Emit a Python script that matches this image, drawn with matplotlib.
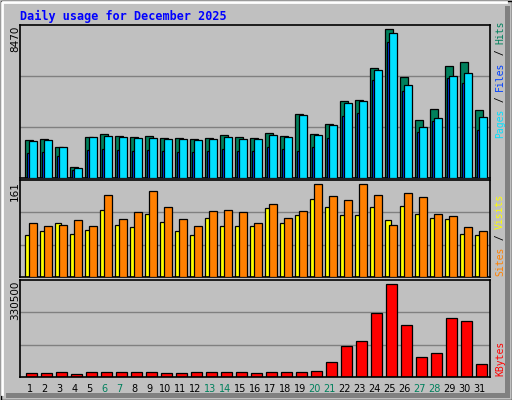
import matplotlib
matplotlib.use("Agg")
import matplotlib.pyplot as plt
from matplotlib.patches import Rectangle
import numpy as np

days = list(range(1, 32))
weekend = [6, 7, 13, 14, 20, 21, 27, 28]
hits = [2162, 2237, 1778, 631, 2351, 2523, 2409, 2351, 2409, 2294, 2294, 2237, 2294, 2466, 2351, 2294,
        2563, 2391, 3653, 2506, 3080, 4399, 4456, 6291, 8470, 5775, 3309, 3940, 6406, 6635, 3883]
pages = [2105, 2162, 1778, 556, 2351, 2409, 2351, 2294, 2294, 2237, 2237, 2179, 2237, 2351, 2237, 2237,
         2449, 2334, 3596, 2449, 3022, 4284, 4399, 6177, 8241, 5316, 2908, 3424, 5832, 6004, 3481]
files = [1434, 1491, 1262, 459, 1606, 1663, 1606, 1548, 1606, 1548, 1491, 1491, 1548, 1663, 1548, 1548,
         1778, 1663, 1531, 1778, 2294, 3538, 3711, 5603, 7782, 4972, 2621, 3252, 5718, 5431, 2736]
visits = [72, 80, 93, 75, 82, 117, 91, 87, 110, 96, 80, 72, 103, 89, 89, 89, 119, 93, 108, 136, 122,
          108, 107, 122, 98, 124, 110, 103, 101, 75, 73]
sites = [93, 89, 91, 98, 89, 143, 101, 112, 150, 122, 101, 89, 115, 117, 112, 94, 126, 103, 114, 161,
         140, 133, 161, 143, 91, 145, 138, 110, 105, 87, 79]
kbytes = [15680, 15680, 19300, 12060, 19300, 19300, 19300, 19300, 19300, 15680, 15680, 19300, 19300,
          19300, 19300, 15680, 19300, 19300, 19300, 22900, 51860, 109750, 127840, 229140, 330500,
          185720, 69950, 84420, 211050, 200200, 44620]

W, H = 512, 400
fig = plt.figure(figsize=(W / 100, H / 100), dpi=100)
fig.patch.set_facecolor("#C0C0C0")
bg = fig.add_axes([0, 0, 1, 1])
bg.set_xlim(0, W); bg.set_ylim(H, 0); bg.axis("off")
bg.add_patch(Rectangle((0.5, 0.5), W - 1, H - 1, fill=False, ec="black", lw=1))
bg.plot([2, 2, W - 6], [H - 6, 2, 2], color="white", lw=2)
bg.add_patch(Rectangle((W - 7, 6), 5, H - 8, fc="#808080", ec="none"))
bg.add_patch(Rectangle((6, H - 7), W - 8, 5, fc="#808080", ec="none"))

mono = "DejaVu Sans Mono"
bg.text(20, 16, "Daily usage for December 2025", color="#0000FF", fontsize=8.5,
        fontweight="bold", family=mono, va="center", ha="left")

x0, x1 = 20, 490
xl = (0.5, 0.5 + (x1 - x0) / 15)


def panel(top, bottom):
    ax = fig.add_axes([x0 / W, 1 - bottom / H, (x1 - x0) / W, (bottom - top) / H])
    ax.set_facecolor("#C0C0C0")
    ax.set_xlim(*xl)
    for s in ax.spines.values():
        s.set_linewidth(1.2)
    ax.set_xticks([]); ax.set_yticks([])
    return ax


def grid(ax, top):
    ax.set_ylim(0, top)
    for f in (1 / 3, 2 / 3):
        ax.axhline(top * f, color="#808080", lw=1, zorder=0)


d = np.array(days, dtype=float)
u = 1 / 15  # one pixel in day units

# top panel
ax1 = panel(25, 178)
top1 = max(hits) * 1.03
grid(ax1, top1)
ax1.bar(d - 2.2 * u, hits, width=7.7 * u, align="edge", color="#00805C", ec="black", lw=0.9, zorder=2)
ax1.bar(d - 0.5 * u, files, width=5 * u, align="edge", color="#0040FF", ec="black", lw=0.9, zorder=3)
ax1.bar(d + 1.5 * u, pages, width=7.7 * u, align="edge", color="#00E0FF", ec="black", lw=0.9, zorder=4)

# middle panel
ax2 = panel(180, 277)
top2 = max(sites) * 1.045
grid(ax2, top2)
ax2.bar(d - 2.2 * u, visits, width=5.4 * u, align="edge", color="#FFFF00", ec="black", lw=0.9, zorder=2)
ax2.bar(d + 1.8 * u, sites, width=7.4 * u, align="edge", color="#FF8000", ec="black", lw=0.9, zorder=3)

# bottom panel
ax3 = panel(280, 377)
top3 = max(kbytes) * 1.045
grid(ax3, top3)
ax3.bar(d - 1.5 * u, kbytes, width=10.7 * u, align="edge", color="#FF0000", ec="black", lw=0.9, zorder=2)

# left max labels
bg.text(15, 26, f"{max(hits)}", rotation=90, fontsize=7.5, va="top", ha="center")
bg.text(15, 181, f"{max(sites)}", rotation=90, fontsize=7.5, va="top", ha="center")
bg.text(15, 281, f"{max(kbytes)}", rotation=90, fontsize=7.5, va="top", ha="center")

# right legends (bottom to top)
def vlegend(parts, ybottom):
    y = ybottom
    for txt, col in parts:
        t = bg.text(500, y, txt, rotation=90, color=col, fontsize=7, family=mono,
                    va="bottom", ha="center")
        y -= len(txt) * 5.9


vlegend([("Pages", "#00E0FF"), (" / ", "#000000"), ("Files", "#0040FF"), (" / ", "#000000"),
         ("Hits", "#00805C")], 138)
vlegend([("Sites", "#FF8000"), (" / ", "#000000"), ("Visits", "#FFFF00")], 276)
vlegend([("KBytes", "#FF0000")], 376)

# day labels
for dd in days:
    px = x0 + (dd - 0.5 + 0.15) * 15
    bg.text(px, 389, str(dd), fontsize=7, ha="center", va="center",
            color="#00805C" if dd in weekend else "black")

fig.savefig("out.png", dpi=100, facecolor=fig.get_facecolor())
